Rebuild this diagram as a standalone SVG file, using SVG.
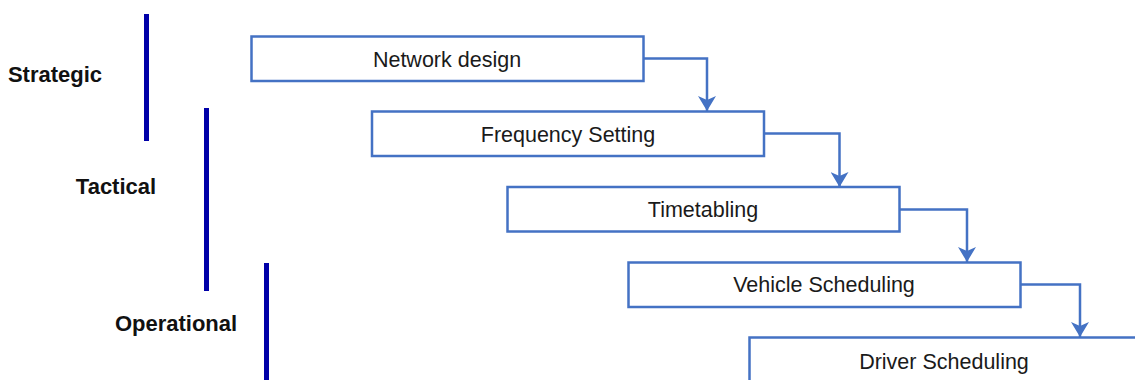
<svg xmlns="http://www.w3.org/2000/svg" width="1135" height="380" viewBox="0 0 1135 380">
<style>
.box{fill:#ffffff;stroke:#4472c4;stroke-width:2.5}
.lbl{font-family:"Liberation Sans",Arial,sans-serif;font-size:21.5px;fill:#1a1a1a;text-anchor:middle}
.lvl{font-family:"Liberation Sans",Arial,sans-serif;font-size:22px;font-weight:bold;fill:#111;text-anchor:middle}
.bar{stroke:#0000a8;stroke-width:5}
.conn{fill:none;stroke:#4472c4;stroke-width:2.5}
</style>
<defs>
<marker id="arr" viewBox="0 0 16 18" refX="15" refY="9" markerWidth="16" markerHeight="18" markerUnits="userSpaceOnUse" orient="auto">
<path d="M0,0 L15,9 L0,18 L4,9 Z" fill="#4472c4"/>
</marker>
</defs>
<rect width="1135" height="380" fill="#ffffff"/>
<g id="levels">
<g id="strategic"><line class="bar" x1="146.5" y1="14" x2="146.5" y2="141"/><text class="lvl" x="55" y="82">Strategic</text></g>
<g id="tactical"><line class="bar" x1="206.5" y1="108" x2="206.5" y2="291"/><text class="lvl" x="116" y="194">Tactical</text></g>
<g id="operational"><line class="bar" x1="266.5" y1="263" x2="266.5" y2="380"/><text class="lvl" x="176" y="331">Operational</text></g>
</g>
<g id="connectors">
<path class="conn" d="M643,58.5 H707 V111" marker-end="url(#arr)"/>
<path class="conn" d="M764,133.5 H839.5 V187" marker-end="url(#arr)"/>
<path class="conn" d="M899,209.5 H967 V262" marker-end="url(#arr)"/>
<path class="conn" d="M1020,284.5 H1080 V337" marker-end="url(#arr)"/>
</g>
<g id="network-design"><rect class="box" x="251.5" y="36.5" width="392" height="44.5"/><text class="lbl" x="447" y="66.5">Network design</text></g>
<g id="frequency-setting"><rect class="box" x="372" y="111.5" width="392" height="44.5"/><text class="lbl" x="568" y="141.5">Frequency Setting</text></g>
<g id="timetabling"><rect class="box" x="507.5" y="187" width="392" height="44.5"/><text class="lbl" x="703" y="217">Timetabling</text></g>
<g id="vehicle-scheduling"><rect class="box" x="628.5" y="262.5" width="392" height="44.5"/><text class="lbl" x="824" y="292">Vehicle Scheduling</text></g>
<g id="driver-scheduling"><rect class="box" x="749.5" y="337.5" width="392" height="44.5"/><text class="lbl" x="944" y="369">Driver Scheduling</text></g>
</svg>
